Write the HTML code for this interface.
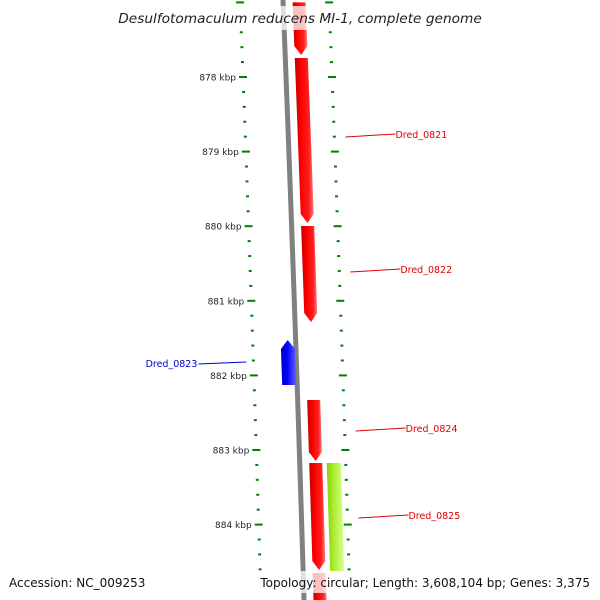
<!DOCTYPE html>
<html><head><meta charset="utf-8"><style>
html,body{margin:0;background:#fff;width:600px;height:600px;overflow:hidden}
svg{display:block}
text{font-family:"DejaVu Sans","Liberation Sans",sans-serif}
</style></head><body>
<svg id="c" width="600" height="600" viewBox="0 0 600 600">
<defs>
<linearGradient id="gr" x1="0" x2="1" y1="0" y2="0"><stop offset="0" stop-color="#c00000"/><stop offset="0.35" stop-color="#ff0000"/><stop offset="0.75" stop-color="#ff2020"/><stop offset="1" stop-color="#ff8080"/></linearGradient>
<linearGradient id="gb" x1="0" x2="1" y1="0" y2="0"><stop offset="0" stop-color="#0000c0"/><stop offset="0.4" stop-color="#0000ff"/><stop offset="1" stop-color="#6060ff"/></linearGradient>
<linearGradient id="gl" x1="0" x2="1" y1="0" y2="0"><stop offset="0" stop-color="#88cc10"/><stop offset="0.4" stop-color="#aaee30"/><stop offset="1" stop-color="#d8ff90"/></linearGradient>
</defs>
<g id="layer"></g>
<rect x="112" y="6" width="376" height="24" fill="#fff" opacity="0.75"/>
<text x="300" y="23" text-anchor="middle" font-size="13.7" font-style="italic" fill="#222">Desulfotomaculum reducens MI-1, complete genome</text>
<rect x="258" y="571" width="334" height="22" fill="#fff" opacity="0.75"/>
<text x="9" y="587" font-size="12" fill="#111">Accession: NC_009253</text>
<text x="590" y="587" text-anchor="end" font-size="12" fill="#111">Topology: circular; Length: 3,608,104 bp; Genes: 3,375</text>
</svg>
<script>
const majorTicks=[878,879,880,881,882,883,884];
const geneNames=["","Dred_0821","Dred_0822","Dred_0823","Dred_0824","Dred_0825",""];
const geneStarts=[877.0,877.745,879.997,881.525,882.330,883.174,884.649];
const geneEnds=[877.705,879.957,881.284,882.129,883.148,884.609,886.0];
const geneStrand=[1,1,1,-1,1,1,1];
const cogStarts=[883.174];
const cogEnds=[884.622];
const labelY=[0,134,269,363,428,515,0];

const NS="http://www.w3.org/2000/svg";
const layer=document.getElementById('layer');
function yOf(k){return 77+(k-878)*74.6;}
function xOf(y){return 283+0.04*y-0.0000083*y*y;}
function mk(t,a){const e=document.createElementNS(NS,t);for(const k in a)e.setAttribute(k,a[k]);layer.appendChild(e);return e;}
let pts=[];for(let y=0;y<=600;y+=10)pts.push(xOf(y)+','+y);
let bb=mk('polyline',{points:pts.join(' '),fill:'none',stroke:'#808080','stroke-width':5});


for(let k=877;k<=885.01;k+=0.2){
 const kk=Math.round(k*10)/10; const y=yOf(kk); if(y<0||y>575)continue;
 const major=Math.abs(kk-Math.round(kk))<0.01;
 const len=major?8:3;
 [-43,46].forEach((off)=>{
  const cx=xOf(y)+off;
  const t=mk('line',{x1:cx-len/2,x2:cx+len/2,y1:y,y2:y,stroke:'#008000','stroke-width':2});
  
  
 });
}
majorTicks.forEach(k=>{const y=yOf(k);
 const t=mk('text',{x:xOf(y)-50,y:y+3.5,'text-anchor':'end','font-size':9,fill:'#222'});
 t.textContent=k+' kbp';
 
 
});
function feature(s,e,off,w,strand,fill,arrow){
 const y1=Math.max(-2,yOf(s)),y2=Math.min(602,yOf(e));const a=arrow&&yOf(e)<=600?Math.min(9,(y2-y1)/2):0;
 let p=[];
 if(strand>0){
  for(let y=y1;y<=y2-a;y+=5)p.push([xOf(y)+off-w/2,y]);
  p.push([xOf(y2-a)+off-w/2,y2-a]);p.push([xOf(y2)+off,y2]);p.push([xOf(y2-a)+off+w/2,y2-a]);
  for(let y=y2-a;y>=y1;y-=5)p.push([xOf(y)+off+w/2,y]);
  p.push([xOf(y1)+off+w/2,y1]);
 }else{
  const b=arrow?Math.min(9,(y2-y1)/2):0;
  p.push([xOf(y1)+off,y1]);p.push([xOf(y1+b)+off+w/2,y1+b]);
  for(let y=y1+b;y<=y2;y+=5)p.push([xOf(y)+off+w/2,y]);
  p.push([xOf(y2)+off+w/2,y2]);p.push([xOf(y2)+off-w/2,y2]);
  for(let y=y2;y>=y1+b;y-=5)p.push([xOf(y)+off-w/2,y]);
  p.push([xOf(y1+b)+off-w/2,y1+b]);
 }
 return mk('polygon',{points:p.map(q=>q.join(',')).join(' '),fill:fill});
}
geneStarts.forEach((s,i)=>{
 const fwd=geneStrand[i]>0;
 const g=feature(s,geneEnds[i],fwd?16:-8,fwd?13:14,geneStrand[i],fwd?'url(#gr)':'url(#gb)',true);
 
 
 if(geneNames[i]){
  const ly=labelY[i];const gy=(yOf(s)+yOf(geneEnds[i]))/2;
  const col=fwd?'#e00000':'#0000d0';
  let l,t;
  if(fwd){const x0=xOf(gy)+57;
   l=mk('line',{x1:x0,y1:ly+3,x2:x0+50,y2:ly,stroke:col,'stroke-width':1});
   t=mk('text',{x:x0+50,y:ly+4,'font-size':9.5,fill:col});
  }else{const x0=xOf(gy)-50;
   l=mk('line',{x1:x0,y1:ly-1,x2:x0-48,y2:ly+1,stroke:col,'stroke-width':1});
   t=mk('text',{x:x0-49,y:ly+4,'font-size':9.5,fill:col,'text-anchor':'end'});
  }
  t.textContent=geneNames[i];
  
  
  
  
 }
});
cogStarts.forEach((s,i)=>{
 const g=feature(s,cogEnds[i],34,14,1,'url(#gl)',false);
 
 
});
</script>
</body></html>
